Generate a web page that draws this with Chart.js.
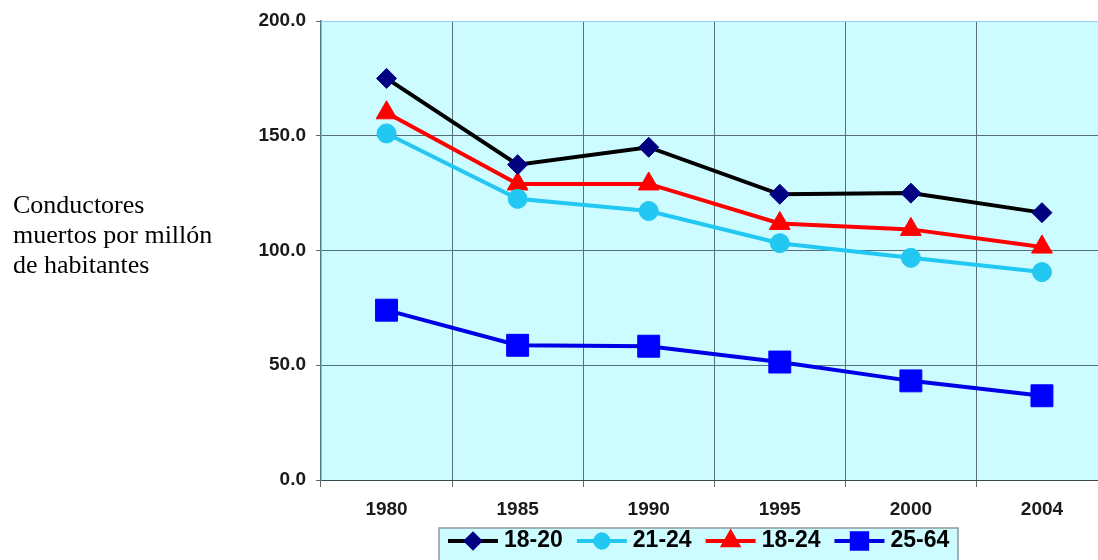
<!DOCTYPE html>
<html>
<head>
<meta charset="utf-8">
<script src="https://cdn.jsdelivr.net/npm/chart.js@4.4.1/dist/chart.umd.min.js"></script>
<style>
    html, body { margin: 0; padding: 0; background: #fff; }
    #wrap { position: relative; width: 1098px; height: 560px; overflow: hidden; }
    #deathsChart { position: absolute; left: 0; top: 0; }
    #ylabel {
        position: absolute; left: 13px; top: 190px;
        font-family: "Liberation Serif", "Times New Roman", serif;
        font-size: 26px; line-height: 30px; color: #000;
    }
</style>
</head>
<body>
<div id="wrap">
    <canvas id="deathsChart" width="1124" height="560"></canvas>
    <div id="ylabel">Conductores<br>muertos por millón<br>de habitantes</div>
</div>
<script>
// Datos
const years = ['1980', '1985', '1990', '1995', '2000', '2004'];
const yTicks = [0, 50, 100, 150, 200];
const seriesNames = ['18-20', '21-24', '18-24', '25-64'];
const age18to20 = [175, 137.4, 145, 124.5, 125, 116.5];
const age21to24 = [151, 122.5, 117.2, 103.2, 96.8, 90.6];
const age18to24 = [160, 129, 129, 111.8, 109.2, 101.5];
const age25to64 = [74, 58.7, 58.3, 51.4, 43.2, 36.7];

const axisFont = { family: '"Liberation Sans", Arial, sans-serif', size: 19, weight: 'bold' };

// Plot area background
const plotBg = {
    id: 'plotBg',
    beforeDraw(chart) {
        const { ctx, chartArea: a } = chart;
        ctx.save();
        ctx.fillStyle = '#ccfcff';
        ctx.fillRect(a.left, a.top, a.right - a.left, a.bottom - a.top);
        ctx.restore();
    }
};

// Legend box under the chart (line + marker + label)
const lineLegend = {
    id: 'lineLegend',
    afterDraw(chart) {
        const ctx = chart.ctx;
        const boxLeft = 439, boxTop = 528, boxRight = 958, boxBottom = 570;
        const cy = 541;
        ctx.save();
        ctx.fillStyle = '#ccfcff';
        ctx.fillRect(boxLeft, boxTop, boxRight - boxLeft, boxBottom - boxTop);
        ctx.strokeStyle = '#8a9a9e';
        ctx.lineWidth = 1.5;
        ctx.strokeRect(boxLeft, boxTop, boxRight - boxLeft, boxBottom - boxTop);

        ctx.font = 'bold 23px "Liberation Sans", Arial, sans-serif';
        ctx.textBaseline = 'middle';
        let x = 448;
        chart.data.datasets.forEach(ds => {
            ctx.strokeStyle = ds.borderColor;
            ctx.lineWidth = 4;
            ctx.beginPath();
            ctx.moveTo(x, cy);
            ctx.lineTo(x + 50, cy);
            ctx.stroke();

            ctx.fillStyle = ds.pointBackgroundColor;
            ctx.strokeStyle = ds.pointBorderColor;
            Chart.helpers.drawPoint(ctx, {
                pointStyle: ds.pointStyle,
                radius: ds.pointRadius * 0.7,
                rotation: 0,
                borderWidth: 1
            }, x + 25, cy);

            ctx.fillStyle = '#000';
            ctx.fillText(ds.label, x + 56, cy);
            x += 56 + ctx.measureText(ds.label).width + 14;
        });
        ctx.restore();
    }
};

const ctx = document.getElementById('deathsChart').getContext('2d');

new Chart(ctx, {
    type: 'line',
    data: {
        labels: years,
        datasets: [{
            label: seriesNames[0],
            data: age18to20,
            borderColor: '#000000',
            borderWidth: 4,
            pointStyle: 'rectRot',
            pointRadius: 10,
            pointBackgroundColor: '#000080',
            pointBorderColor: '#000080',
            pointBorderWidth: 1
        }, {
            label: seriesNames[1],
            data: age21to24,
            borderColor: '#22c8f2',
            borderWidth: 4,
            pointStyle: 'circle',
            pointRadius: 9.5,
            pointBackgroundColor: '#22c8f2',
            pointBorderColor: '#22c8f2',
            pointBorderWidth: 1
        }, {
            label: seriesNames[2],
            data: age18to24,
            borderColor: '#ff0000',
            borderWidth: 4,
            pointStyle: 'triangle',
            pointRadius: 12,
            pointBackgroundColor: '#ff0000',
            pointBorderColor: '#ff0000',
            pointBorderWidth: 1
        }, {
            label: seriesNames[3],
            data: age25to64,
            borderColor: '#0000e6',
            borderWidth: 4,
            pointStyle: 'rect',
            pointRadius: 15.5,
            pointBackgroundColor: '#0000ff',
            pointBorderColor: '#0000ff',
            pointBorderWidth: 1
        }]
    },
    options: {
        responsive: false,
        animation: false,
        devicePixelRatio: 1,
        layout: { padding: { top: 21, right: 0, bottom: 0, left: 0 } },
        elements: { line: { tension: 0 } },
        plugins: {
            legend: { display: false },
            tooltip: { enabled: false }
        },
        scales: {
            x: {
                offset: true,
                grid: {
                    offset: true,
                    color: '#56707a',
                    lineWidth: 1,
                    tickLength: 7,
                    tickColor: '#666'
                },
                border: { display: true, color: '#3a4a50', width: 1 },
                ticks: { color: '#1a1a1a', font: axisFont, padding: 11 },
                afterFit: scale => {
                    scale.height = 80;
                    scale.paddingLeft = 0;
                    scale.paddingRight = 0;
                }
            },
            y: {
                min: 0,
                max: 200,
                afterBuildTicks: scale => { scale.ticks = yTicks.map(v => ({ value: v })); },
                grid: {
                    color: c => (c.tick && c.tick.value === 200 ? '#8fd3ec' : '#56707a'),
                    lineWidth: 1,
                    tickLength: 5,
                    tickColor: '#666'
                },
                border: { display: true, color: '#4f7f88', width: 1.5 },
                ticks: {
                    color: '#1a1a1a',
                    font: axisFont,
                    padding: 10,
                    callback: v => Number(v).toFixed(1)
                },
                afterFit: scale => {
                    scale.width = 321;
                    scale.paddingTop = 0;
                    scale.paddingBottom = 0;
                }
            }
        }
    },
    plugins: [plotBg, lineLegend]
});
</script>
</body>
</html>
